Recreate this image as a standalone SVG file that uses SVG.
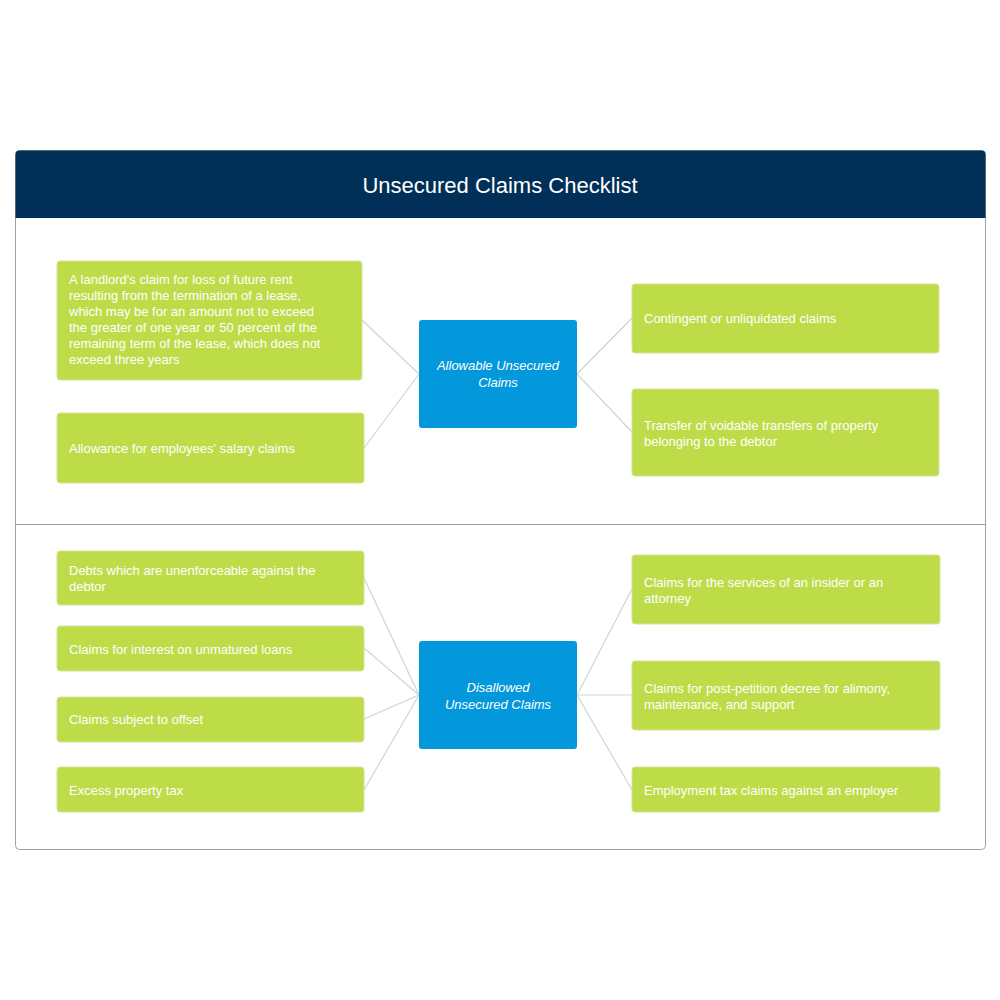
<svg xmlns="http://www.w3.org/2000/svg" width="1000" height="1000" viewBox="0 0 1000 1000">
<style>
.g{fill:#bddc48;stroke:#d4e39a;stroke-width:1}
.b{fill:#0298db}
.t{font-family:"Liberation Sans",Arial,sans-serif;font-size:13px;fill:#fff}
.c{font-family:"Liberation Sans",Arial,sans-serif;font-size:13px;fill:#fff;font-style:italic;text-anchor:middle}
.l{stroke:#d3d3d3;stroke-width:1.2;fill:none}
</style>
<rect width="1000" height="1000" fill="#fff"/>
<rect x="15.5" y="150.5" width="970" height="699" rx="4" fill="#fff" stroke="#a0a0a0"/>
<path d="M15.5 218 V154.5 a4 4 0 0 1 4 -4 H981.5 a4 4 0 0 1 4 4 V218 Z" fill="#003058"/>
<text x="500" y="193" text-anchor="middle" font-family="Liberation Sans,Arial,sans-serif" font-size="22" fill="#fff">Unsecured Claims Checklist</text>
<line x1="15.5" y1="524.5" x2="985.5" y2="524.5" stroke="#a0a0a0"/>
<g id="connectors">
<path class="l" d="M362 320 L419 374 M364 448 L419 374 M577 374 L632 318 M577 374 L632 432"/>
<path class="l" d="M364 578 L419 695 M364 648 L419 695 M364 719 L419 695 M364 790 L419 695 M577 695 L632 589 M577 695 L632 695 M577 695 L632 790"/>
</g>
<g id="n1"><rect class="g" x="57" y="261" width="305" height="119" rx="3"/><text class="t" x="69" y="284">A landlord's claim for loss of future rent<tspan x="69" dy="16">resulting from the termination of a lease,</tspan><tspan x="69" dy="16">which may be for an amount not to exceed</tspan><tspan x="69" dy="16">the greater of one year or 50 percent of the</tspan><tspan x="69" dy="16">remaining term of the lease, which does not</tspan><tspan x="69" dy="16">exceed three years</tspan></text></g>
<g id="n2"><rect class="g" x="57" y="413" width="307" height="70" rx="3"/><text class="t" x="69" y="453">Allowance for employees' salary claims</text></g>
<g id="c1"><rect class="b" x="419" y="320" width="158" height="108" rx="3"/><text class="c" x="498" y="370">Allowable Unsecured<tspan x="498" dy="17">Claims</tspan></text></g>
<g id="n3"><rect class="g" x="632" y="284" width="307" height="69" rx="3"/><text class="t" x="644" y="323">Contingent or unliquidated claims</text></g>
<g id="n4"><rect class="g" x="632" y="389" width="307" height="87" rx="3"/><text class="t" x="644" y="430">Transfer of voidable transfers of property<tspan x="644" dy="16">belonging to the debtor</tspan></text></g>
<g id="n5"><rect class="g" x="57" y="551" width="307" height="54" rx="3"/><text class="t" x="69" y="575">Debts which are unenforceable against the<tspan x="69" dy="16">debtor</tspan></text></g>
<g id="n6"><rect class="g" x="57" y="626" width="307" height="45" rx="3"/><text class="t" x="69" y="654">Claims for interest on unmatured loans</text></g>
<g id="n7"><rect class="g" x="57" y="697" width="307" height="45" rx="3"/><text class="t" x="69" y="724">Claims subject to offset</text></g>
<g id="n8"><rect class="g" x="57" y="767" width="307" height="45" rx="3"/><text class="t" x="69" y="795">Excess property tax</text></g>
<g id="c2"><rect class="b" x="419" y="641" width="158" height="108" rx="3"/><text class="c" x="498" y="692">Disallowed<tspan x="498" dy="17">Unsecured Claims</tspan></text></g>
<g id="n9"><rect class="g" x="632" y="555" width="308" height="69" rx="3"/><text class="t" x="644" y="587">Claims for the services of an insider or an<tspan x="644" dy="16">attorney</tspan></text></g>
<g id="n10"><rect class="g" x="632" y="661" width="308" height="69" rx="3"/><text class="t" x="644" y="693">Claims for post-petition decree for alimony,<tspan x="644" dy="16">maintenance, and support</tspan></text></g>
<g id="n11"><rect class="g" x="632" y="767" width="308" height="45" rx="3"/><text class="t" x="644" y="795">Employment tax claims against an employer</text></g>
</svg>
